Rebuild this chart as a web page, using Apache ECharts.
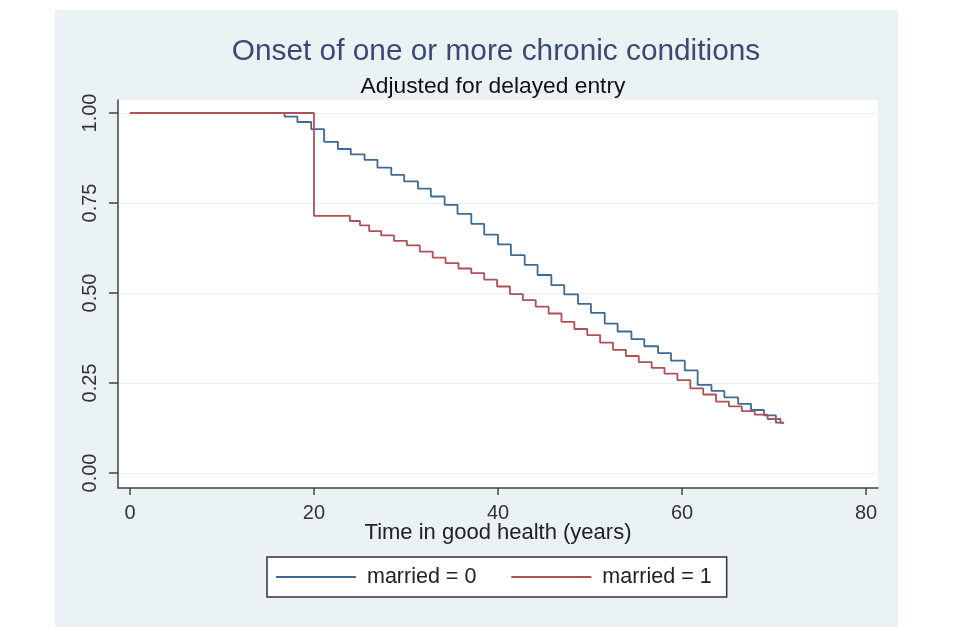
<!DOCTYPE html>
<html>
<head>
<meta charset="utf-8">
<script src="https://cdn.jsdelivr.net/npm/echarts@6/dist/echarts.min.js"></script>
<style>
html,body{margin:0;padding:0;background:#ffffff;}
#chart{width:960px;height:640px;}
</style>
</head>
<body>
<div id="chart"></div>
<script>
// ---- data (Kaplan-Meier style step estimates) ----
const timeMarried0 = [0,16.8,18.2,19.7,21.1,22.6,24.0,25.5,26.9,28.4,29.8,31.3,32.7,34.2,35.6,37.1,38.5,40.0,41.4,42.9,44.3,45.8,47.2,48.7,50.1,51.6,53.0,54.5,55.9,57.4,58.8,60.3,61.7,63.2,64.6,66.1,67.5,68.9,70.2,71.0];
const survMarried0 = [1.0,0.99,0.975,0.955,0.92,0.90,0.885,0.87,0.848,0.828,0.81,0.79,0.768,0.745,0.72,0.692,0.662,0.635,0.605,0.578,0.55,0.522,0.496,0.47,0.445,0.415,0.393,0.372,0.352,0.333,0.312,0.285,0.245,0.228,0.21,0.192,0.175,0.16,0.14,0.138];
const timeMarried1 = [0,20.0,23.9,25.0,26.0,27.3,28.7,30.1,31.5,32.9,34.3,35.7,37.1,38.5,39.9,41.3,42.7,44.1,45.5,46.9,48.3,49.7,51.1,52.5,53.9,55.3,56.7,58.1,59.5,60.9,62.3,63.7,65.1,66.5,67.9,69.3,70.7,71.0];
const survMarried1 = [1.0,0.714,0.700,0.688,0.672,0.66,0.645,0.632,0.615,0.598,0.583,0.568,0.555,0.537,0.518,0.497,0.48,0.462,0.443,0.42,0.40,0.383,0.362,0.342,0.325,0.308,0.292,0.276,0.258,0.235,0.218,0.198,0.185,0.172,0.162,0.15,0.139,0.137];
const seriesNames = ['married = 0','married = 1'];
const xTickValues = [0,20,40,60,80];
const yTickValues = [0,0.25,0.5,0.75,1];
// plot region extends a little beyond the labelled range
const xRange = [-1.3, 81.3];
const yRange = [-0.0417, 1.0361];

const zip = (t, s) => t.map((v, i) => [v, s[i]]);
const FONT = '"Liberation Sans", Arial, sans-serif';
const BLUE = '#3d6a96', RED = '#b24f57';

const chart = echarts.init(document.getElementById('chart'));
chart.setOption({
  animation: false,
  backgroundColor: '#ffffff',
  textStyle: { fontFamily: FONT },
  title: [
    { text: 'Onset of one or more chronic conditions', left: 491, textAlign: 'center', top: 32,
      textStyle: { fontFamily: FONT, fontSize: 29.8, fontWeight: 'normal', color: '#3b4a72' } },
    { text: 'Adjusted for delayed entry', left: 488, textAlign: 'center', top: 70.5,
      textStyle: { fontFamily: FONT, fontSize: 22.8, fontWeight: 'normal', color: '#111111' } }
  ],
  graphic: [
    { type: 'rect', z: -100, shape: { x: 55, y: 10, width: 843, height: 617 }, style: { fill: '#eaf2f3' } }
  ],
  grid: { left: 118, right: 82, top: 100, bottom: 152, containLabel: false,
    show: true, backgroundColor: '#ffffff', borderWidth: 0 },
  legend: {
    data: seriesNames,
    left: 267, top: 557,
    orient: 'horizontal',
    backgroundColor: '#ffffff',
    borderColor: '#333333', borderWidth: 1.5, borderRadius: 0,
    padding: [9, 15, 9, 9],
    icon: 'rect',
    itemWidth: 80, itemHeight: 2, itemGap: 35,
    textStyle: { fontFamily: FONT, fontSize: 21.5, color: '#222222', padding: [0, 0, 0, 6] }
  },
  xAxis: {
    type: 'value', min: xRange[0], max: xRange[1],
    name: 'Time in good health (years)', nameLocation: 'middle', nameGap: 38,
    nameMoveOverlap: false,
    nameTextStyle: { fontFamily: FONT, fontSize: 22, lineHeight: 14, color: '#222222' },
    axisLine: { show: true, onZero: false, lineStyle: { color: '#444444', width: 1.5 } },
    axisTick: { show: true, length: 7, customValues: xTickValues, lineStyle: { color: '#444444', width: 1.5 } },
    axisLabel: { fontFamily: FONT, fontSize: 20, lineHeight: 12, color: '#333333', margin: 19,
      customValues: xTickValues },
    splitLine: { show: false }
  },
  yAxis: {
    type: 'value', min: yRange[0], max: yRange[1],
    axisLine: { show: true, onZero: false, lineStyle: { color: '#444444', width: 1.5 } },
    axisTick: { show: true, length: 9, customValues: yTickValues, lineStyle: { color: '#444444', width: 1.5 } },
    axisLabel: { fontFamily: FONT, fontSize: 20, color: '#333333', rotate: 90, margin: 18,
      customValues: yTickValues, formatter: v => v.toFixed(2) },
    splitLine: { show: true, lineStyle: { color: '#e9f0f2', width: 1 } }
  },
  series: [
    { name: seriesNames[0], type: 'line', step: 'end', symbol: 'none',
      data: zip(timeMarried0, survMarried0),
      itemStyle: { color: BLUE },
      lineStyle: { color: BLUE, width: 1.8 } },
    { name: seriesNames[1], type: 'line', step: 'end', symbol: 'none',
      data: zip(timeMarried1, survMarried1),
      itemStyle: { color: RED },
      lineStyle: { color: RED, width: 1.8 } }
  ]
});
</script>
</body>
</html>
